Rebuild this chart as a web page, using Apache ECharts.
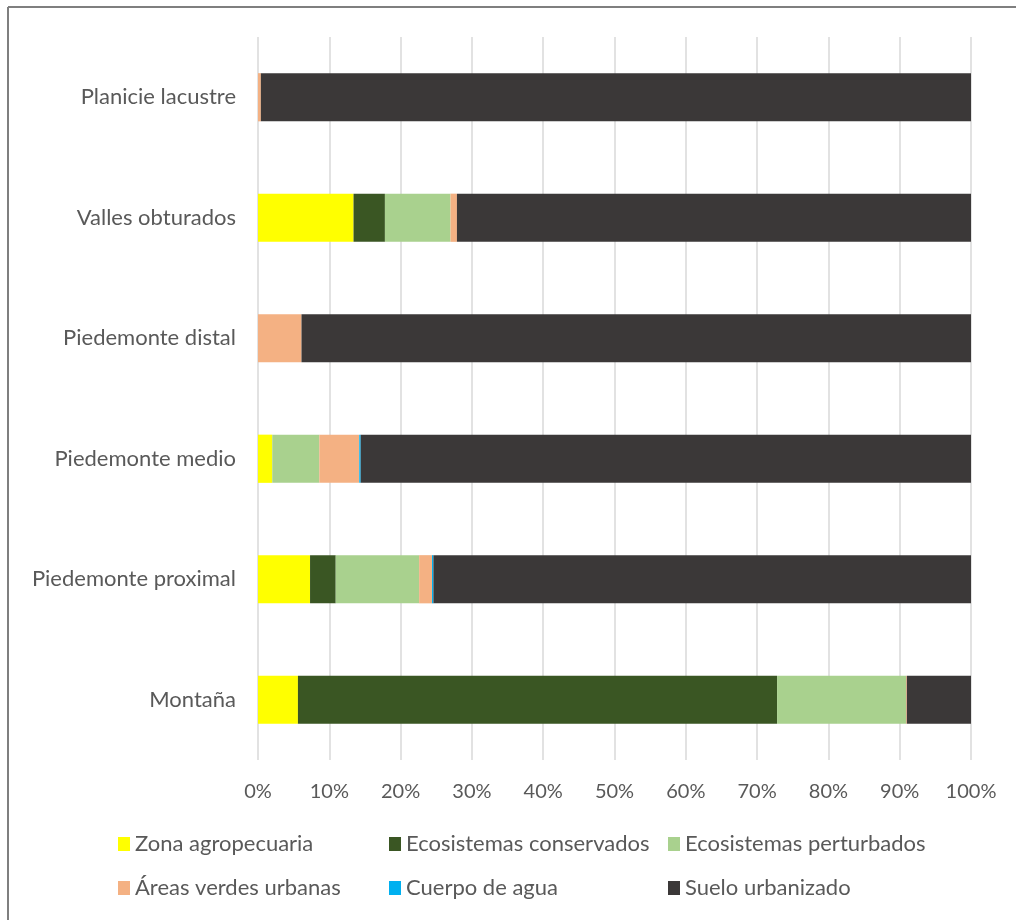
<!DOCTYPE html>
<html>
<head>
<meta charset="utf-8">
<style>html,body{margin:0;padding:0;background:#fff;}#c{width:1016px;height:920px;}</style>
<script src="https://cdn.jsdelivr.net/npm/echarts@6/dist/echarts.min.js"></script>
</head>
<body>
<div id="c"></div>
<script>
const categories = ['Montaña','Piedemonte proximal','Piedemonte medio','Piedemonte distal','Valles obturados','Planicie lacustre'];
const seriesNames = ['Zona agropecuaria','Ecosistemas conservados','Ecosistemas perturbados','Áreas verdes urbanas','Cuerpo de agua','Suelo urbanizado'];
const zona        = [5.6, 7.3, 2.0, 0, 13.4, 0];
const conservados = [67.2, 3.6, 0, 0, 4.4, 0];
const perturbados = [18.1, 11.7, 6.6, 0, 9.2, 0];
const areas       = [0.1, 1.8, 5.6, 6.1, 0.9, 0.4];
const agua        = [0, 0.2, 0.2, 0, 0, 0];
const suelo       = [9.0, 75.4, 85.6, 93.9, 72.1, 99.6];
const tickValues  = [0,10,20,30,40,50,60,70,80,90,100];
const colors = ['#FFFF00','#3A5623','#A9D18E','#F4B183','#00B0F0','#3B3838'];

const values = [zona, conservados, perturbados, areas, agua, suelo];
const FONT = 'Lato';
const chart = echarts.init(document.getElementById('c'), null, {renderer:'canvas'});
const legendPos = [[118,833],[389,833],[668,833],[118,877],[389,877],[668,877]];
const option = {
  animation:false,
  backgroundColor:'#fff',
  textStyle:{fontFamily:FONT},
  grid:{left:258,right:45,top:37,bottom:160,containLabel:false},
  xAxis:{type:'value',min:0,max:100,interval:10,
    axisLine:{show:false},axisTick:{show:false},
    axisLabel:{formatter:'{value}%',color:'#595959',fontSize:20,fontFamily:FONT,margin:22},
    splitLine:{show:true,lineStyle:{color:'#d9d9d9',width:1.5}}},
  yAxis:{type:'category',data:categories,
    axisLine:{show:false},axisTick:{show:false},
    axisLabel:{color:'#595959',fontSize:22,fontFamily:FONT,margin:22}},
  legend: seriesNames.map((n,i)=>({
    data:[n],left:legendPos[i][0],top:legendPos[i][1],
    padding:0,
    itemWidth:12,itemHeight:14,itemGap:0,
    icon:'rect',
    textStyle:{color:'#595959',fontSize:22,fontFamily:FONT,padding:[0,0,0,0]},
    selectedMode:false
  })),
  graphic:[
    {type:'line',shape:{x1:8,y1:7,x2:1016,y2:7},style:{stroke:'#7f7f7f',lineWidth:2}},
    {type:'line',shape:{x1:8,y1:7,x2:8,y2:920},style:{stroke:'#7f7f7f',lineWidth:2}}
  ],
  series: seriesNames.map((n,i)=>({
    name:n,type:'bar',stack:'total',data:values[i],
    barCategoryGap:'60%',
    itemStyle:{color:colors[i]},
    emphasis:{disabled:true}
  }))
};
chart.setOption(option);
</script>
</body>
</html>
